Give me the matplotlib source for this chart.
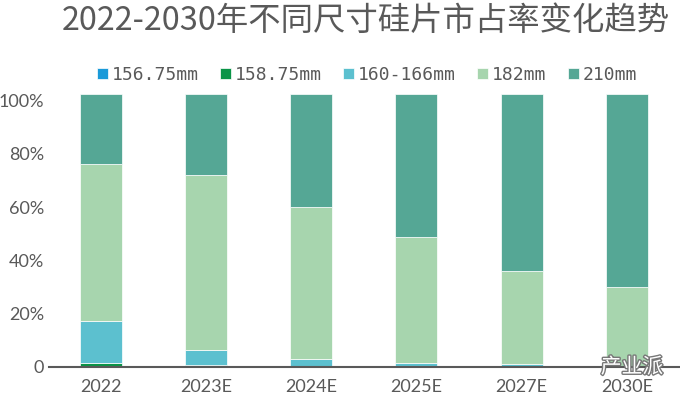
import matplotlib
matplotlib.use("Agg")
import matplotlib.pyplot as plt
import matplotlib.patheffects as pe
import numpy as np

categories = ["2022", "2023E", "2024E", "2025E", "2027E", "2030E"]
series_names = ["156.75mm", "158.75mm", "160-166mm", "182mm", "210mm"]
s156 = [0.4, 0.0, 0.0, 0.0, 0.0, 0.0]
s158 = [1.0, 0.5, 0.0, 0.0, 0.0, 0.0]
s160 = [15.8, 5.8, 2.8, 1.5, 1.0, 0.0]
s182 = [58.9, 65.8, 57.4, 47.1, 35.0, 30.1]
s210 = [26.3, 30.3, 42.2, 53.8, 66.4, 72.3]
yticks = [0, 20, 40, 60, 80, 100]
ytick_labels = ["0", "20%", "40%", "60%", "80%", "100%"]
title = "2022-2030年不同尺寸硅片市占率变化趋势"
watermark = "产业派"

colors = ["#1A9AD9", "#0A9447", "#5CC0CF", "#A7D5AE", "#55A795"]
grey = "#595959"

W, H = 680, 397
fig = plt.figure(figsize=(W / 100, H / 100), dpi=100)
ax = fig.add_axes([48.5 / W, (H - 366.7) / H, (679.3 - 48.5) / W, (366.7 - 94) / H])

x = np.arange(len(categories))
bottom = np.zeros(len(categories))
handles = []
for name, vals, c in zip(series_names, [s156, s158, s160, s182, s210], colors):
    v = np.array(vals)
    b = ax.bar(x, v, 0.4, bottom=bottom, color=c, edgecolor="white", linewidth=0.5, label=name)
    handles.append(b)
    bottom += v

ax.set_xlim(-0.5, len(categories) - 0.5)
ax.set_ylim(0, (366.7 - 94) / 2.66)
ax.set_yticks(yticks)
ax.set_yticklabels(ytick_labels, fontfamily="Lato", fontsize=13, color=grey)
ax.set_xticks(x)
ax.set_xticklabels(categories, fontfamily="Lato", fontsize=13, color=grey)
ax.tick_params(axis="both", length=0)
ax.tick_params(axis="x", pad=8.5)
ax.tick_params(axis="y", pad=3)
for s in ["top", "right", "left"]:
    ax.spines[s].set_visible(False)
ax.spines["bottom"].set_color(grey)
ax.spines["bottom"].set_linewidth(1.5)

fig.text(366 / W, 1 - 21 / H, title, ha="center", va="center",
         fontfamily=["Noto Sans CJK SC", "DejaVu Sans"], fontsize=23.3, color=grey)

leg = fig.legend(handles=handles, labels=series_names, loc="center",
                 bbox_to_anchor=(367 / W, 1 - 75 / H), ncol=5, frameon=False,
                 prop={"family": "DejaVu Sans Mono", "size": 13},
                 handlelength=0.6, handleheight=0.6, handletextpad=0.2,
                 columnspacing=1.2, borderaxespad=0)
for t in leg.get_texts():
    t.set_color(grey)

fig.text(632 / W, 1 - 367 / H, watermark, ha="center", va="center",
         fontfamily=["Noto Sans CJK SC"], fontsize=15, color="white",
         path_effects=[pe.withStroke(linewidth=2, foreground="#777777")])

fig.savefig("out.png", dpi=100)
